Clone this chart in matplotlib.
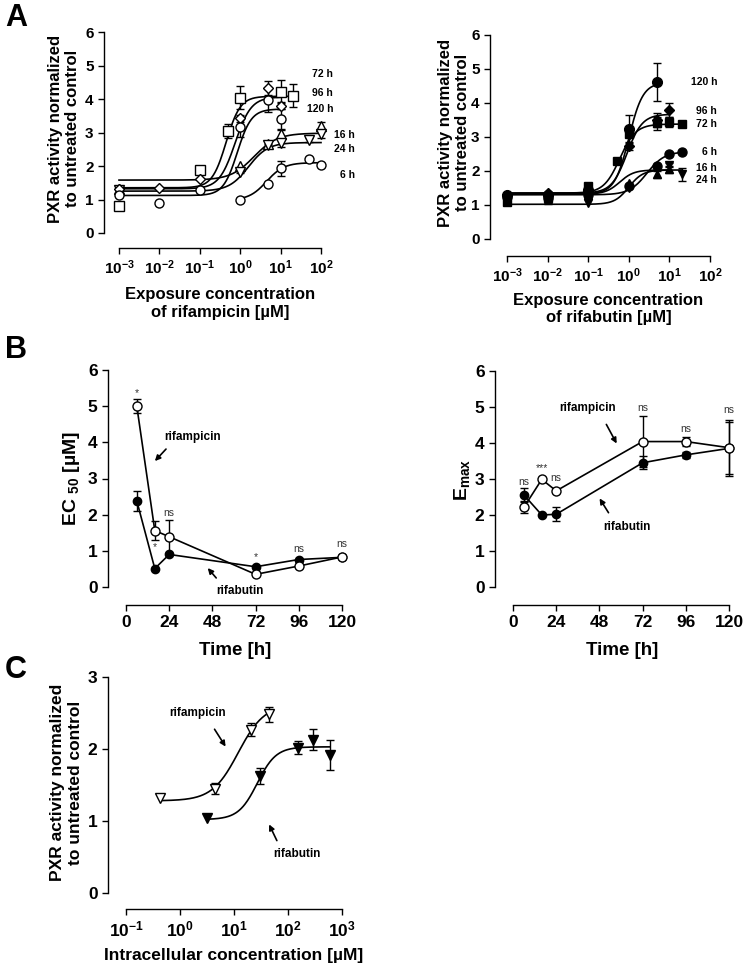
import numpy as np
import matplotlib.pyplot as plt

plt.rcParams['font.family'] = ['Liberation Sans', 'DejaVu Sans']
plt.rcParams['font.weight'] = 'bold'
plt.rcParams['axes.labelweight'] = 'bold'
plt.rcParams['mathtext.fontset'] = 'custom'
plt.rcParams['mathtext.rm'] = 'Liberation Sans:bold'
plt.rcParams['mathtext.bf'] = 'Liberation Sans:bold'
plt.rcParams['mathtext.it'] = 'Liberation Sans:bold'
plt.rcParams['axes.linewidth'] = 1.0

# ---- panel A, rifampicin (open symbols)
labels_h = ['6 h', '16 h', '24 h', '72 h', '96 h', '120 h']
rif_x = [[1, 5, 10, 50, 100],
         [0.001, 1, 5, 10, 100],
         [0.001, 1, 5, 10, 50, 100],
         [0.001, 0.1, 0.5, 1, 10, 20],
         [0.001, 0.01, 0.1, 1, 5, 10],
         [0.001, 0.01, 0.1, 1, 5, 10]]
rif_y = [[0.98, 1.47, 1.93, 2.2, 2.03],
         [1.3, 2.0, 2.66, 2.97, 3.2],
         [1.27, 1.83, 2.62, 2.68, 2.78, 2.95],
         [0.8, 1.88, 3.04, 4.04, 4.22, 4.1],
         [1.31, 1.35, 1.62, 3.42, 4.33, 3.8],
         [1.13, 0.89, 1.28, 3.17, 3.96, 3.39]]
rif_err = [[0, 0, 0.22, 0.05, 0],
           [0, 0, 0.05, 0.1, 0.1],
           [0, 0.05, 0.05, 0.1, 0.05, 0.1],
           [0, 0, 0.2, 0.35, 0.35, 0.35],
           [0, 0, 0, 0.1, 0.2, 0.1],
           [0, 0, 0, 0.3, 0.35, 0.3]]
# fitted curves: bottom, top, EC50, hill slope
rif_fit = [[0.98, 2.1, 4.5, 2.0],
           [1.58, 2.98, 2.2, 1.5],
           [1.25, 2.7, 1.6, 1.8],
           [1.35, 4.08, 0.45, 2.5],
           [1.32, 4.06, 0.75, 2.2],
           [1.12, 3.7, 0.85, 2.5]]
rif_lab_y = [1.73, 2.93, 2.5, 4.75, 4.19, 3.69]

# ---- panel A, rifabutin (filled symbols)
rfb_x = [[0.001, 0.01, 0.1, 1, 5, 10, 20],
         [0.001, 0.01, 0.1, 1, 5, 10],
         [0.001, 0.1, 1, 10, 20],
         [0.001, 0.01, 0.1, 0.5, 1, 5, 10, 20],
         [0.001, 0.01, 0.1, 1, 5, 10],
         [0.001, 0.01, 0.1, 1, 5]]
rfb_y = [[1.25, 1.22, 1.3, 1.55, 2.14, 2.5, 2.57],
         [1.3, 1.15, 1.3, 1.65, 1.9, 2.05],
         [1.15, 1.05, 1.5, 2.18, 1.9],
         [1.1, 1.2, 1.56, 2.3, 3.1, 3.4, 3.45, 3.38],
         [1.3, 1.35, 1.45, 2.73, 3.5, 3.8],
         [1.3, 1.3, 1.45, 3.25, 4.62]]
rfb_err = [[0, 0, 0, 0, 0, 0, 0],
           [0, 0, 0, 0, 0.1, 0.1],
           [0, 0, 0, 0.05, 0.2],
           [0.1, 0, 0, 0, 0.1, 0.2, 0.15, 0],
           [0, 0, 0, 0.1, 0.2, 0.2],
           [0, 0, 0, 0.4, 0.57]]
rfb_fit = [[1.3, 2.57, 2.8, 2.0],
           [1.32, 2.03, 0.6, 2.5],
           [1.02, 2.03, 1.0, 2.5],
           [1.35, 3.38, 0.6, 2.2],
           [1.35, 3.67, 0.9, 2.3],
           [1.33, 4.6, 1.0, 2.5]]
rfb_lab_y = [2.57, 2.08, 1.74, 3.38, 3.75, 4.63]

# ---- panel B
time_h = [6, 16, 24, 72, 96, 120]
ec50_rif = [5.0, 1.56, 1.39, 0.35, 0.58, 0.83]
ec50_rif_err = [0.2, 0.27, 0.45, 0, 0, 0]
ec50_rfb = [2.38, 0.51, 0.9, 0.56, 0.76, 0.82]
ec50_rfb_err = [0.27, 0, 0, 0, 0, 0]
ec50_sig = ['*', '*', 'ns', '*', 'ns', 'ns']
ec50_sig_y = [5.36, 1.1, 2.04, 0.83, 1.05, 1.19]

emax_rif = [2.21, 2.99, 2.67, 4.04, 4.04, 3.87]
emax_rif_err = [0.15, 0, 0, 0.72, 0.12, 0.78]
emax_rfb = [2.56, 2.0, 2.02, 3.45, 3.67, 3.85]
emax_rfb_err = [0.18, 0, 0.2, 0.18, 0.08, 0.72]
emax_sig = ['ns', '***', 'ns', 'ns', 'ns', 'ns']
emax_sig_y = [2.92, 3.3, 3.03, 4.97, 4.39, 4.92]

# ---- panel C
c_rif_x = [0.43, 4.4, 21, 44]
c_rif_y = [1.32, 1.45, 2.27, 2.48]
c_rif_err = [0, 0.08, 0.09, 0.11]
c_rif_fit = [1.28, 2.62, 12, 1.8]
c_rfb_x = [3.1, 30, 155, 295, 600]
c_rfb_y = [1.04, 1.62, 2.02, 2.13, 1.92]
c_rfb_err = [0, 0.11, 0.09, 0.15, 0.21]
c_rfb_fit = [1.02, 2.03, 27, 2.5]


def hill(x, p):
    return p[0] + (p[1] - p[0]) / (1 + (p[2] / x) ** p[3])


def setup(ax, off_l, off_b, xb, yb):
    for s in ['top', 'right']:
        ax.spines[s].set_visible(False)
    ax.spines['left'].set_position(('outward', off_l * 0.72))
    ax.spines['bottom'].set_position(('outward', off_b * 0.72))
    ax.spines['left'].set_bounds(*yb)
    ax.spines['bottom'].set_bounds(*xb)
    ax.set_xlim(*xb)
    ax.set_ylim(*yb)
    ax.tick_params(direction='out', length=4, width=1)
    ax.minorticks_off()


def eb(ax, x, y, err, marker, ms, face, **kw):
    err = np.array(err, dtype=float)
    err = np.where(err > 0, err, np.nan)
    c = ax.errorbar(x, y, yerr=err, fmt=marker, ms=ms, mfc=face, mec='k', mew=1,
                    ecolor='k', elinewidth=1, capsize=3, capthick=1, zorder=3, **kw)
    for a in c.get_children():
        a.set_clip_on(False)
    return c


def log_labels(lo, hi):
    return [r'$10^{%d}$' % e for e in range(lo, hi + 1)]


fig = plt.figure(figsize=(7.45, 9.68), dpi=100)
W, H = 745.0, 968.0

def rect(x0, x1, y0, y1):
    return [x0 / W, 1 - y1 / H, (x1 - x0) / W, (y1 - y0) / H]

axA1 = fig.add_axes(rect(119, 321, 32, 233))
axA2 = fig.add_axes(rect(507, 710, 35, 239))
axB1 = fig.add_axes(rect(126, 342, 370, 587))
axB2 = fig.add_axes(rect(513, 729, 371, 587))
axC = fig.add_axes(rect(126, 342, 677, 893))

# ---- A left / right
rif_mk = ['o', '^', 'v', 's', 'D', 'o']
rfb_mk = ['o', '^', 'v', 's', 'D', 'o']
rif_ms = [6.5, 6.5, 6.5, 6.5, 5.5, 6.5]
rfb_ms = [6.5, 6, 6, 6, 5, 7]
for ax, xs, ys, es, fits, mks, mss, face, laby, labx in [
        (axA1, rif_x, rif_y, rif_err, rif_fit, rif_mk, rif_ms, 'white', rif_lab_y,
         [690, 690, 690, 200, 200, 200]),
        (axA2, rfb_x, rfb_y, rfb_err, rfb_fit, rfb_mk, rfb_ms, 'black', rfb_lab_y,
         [150] * 6)]:
    ax.set_xscale('log')
    setup(ax, 15 if ax is axA1 else 17, 15 if ax is axA1 else 17, (1e-3, 1e2), (0, 6))
    for x, y, e, p, mk, ms in zip(xs, ys, es, fits, mks, mss):
        xx = np.logspace(np.log10(min(x)), np.log10(max(x)), 200)
        ax.plot(xx, hill(xx, p), color='k', lw=1.2, zorder=2, clip_on=False)
        eb(ax, x, y, e, mk, ms, face)
    for lab, yy, xx in zip(labels_h, laby, labx):
        ax.text(xx, yy, lab, ha='right', va='center', fontsize=7.5, fontweight='bold')
    ax.set_xticks([10.0 ** e for e in range(-3, 3)])
    ax.set_xticklabels(log_labels(-3, 2))
    ax.set_yticks(range(7))
    ax.tick_params(labelsize=11)
    ax.set_ylabel('PXR activity normalized\nto untreated control', fontsize=12)

axA1.set_xlabel('Exposure concentration\nof rifampicin [µM]', fontsize=12, va='top')
axA2.set_xlabel('Exposure concentration\nof rifabutin [µM]', fontsize=12, va='top')
axA1.yaxis.set_label_coords(-0.193, 0.52)
axA2.yaxis.set_label_coords(-0.182, 0.52)
axA1.xaxis.set_label_coords(0.5, -0.27)
axA2.xaxis.set_label_coords(0.5, -0.265)

# ---- B
for ax, r, re, b, be, sig, sigy in [
        (axB1, ec50_rif, ec50_rif_err, ec50_rfb, ec50_rfb_err, ec50_sig, ec50_sig_y),
        (axB2, emax_rif, emax_rif_err, emax_rfb, emax_rfb_err, emax_sig, emax_sig_y)]:
    setup(ax, 18, 18, (0, 120), (0, 6))
    ax.plot(time_h, b, color='k', lw=1.2, zorder=2, clip_on=False)
    ax.plot(time_h, r, color='k', lw=1.2, zorder=2, clip_on=False)
    eb(ax, time_h, b, be, 'o', 6, 'black')
    eb(ax, time_h, r, re, 'o', 6.5, 'white')
    for t, s, yy in zip(time_h, sig, sigy):
        ax.text(t, yy, s, ha='center', va='center', fontsize=7.5, fontweight='normal',
                color='#333333')
    ax.set_xticks([0, 24, 48, 72, 96, 120])
    ax.set_yticks(range(7))
    ax.tick_params(labelsize=12.5)
    ax.set_xlabel('Time [h]', fontsize=13.5, va='top')
    ax.xaxis.set_label_coords(0.505, -0.255)

axB1.set_ylabel(r'EC $_{50}$ [µM]', fontsize=14)
axB1.yaxis.set_label_coords(-0.204, 0.5)
axB2.set_ylabel(r'E$_{max}$', fontsize=14)
axB2.yaxis.set_label_coords(-0.19, 0.495)

arrow = dict(arrowstyle='-|>', color='k', lw=1.2, mutation_scale=8)
axB1.annotate('rifampicin', xy=(0.125, 0.571), xytext=(0.31, 0.691), xycoords='axes fraction',
              textcoords='axes fraction', ha='center', va='center', fontsize=8.5)
axB1.annotate('', xy=(0.125, 0.571), xytext=(0.194, 0.645), xycoords='axes fraction',
              textcoords='axes fraction', arrowprops=arrow)
axB1.annotate('rifabutin', xy=(0.37, 0.097), xytext=(0.528, -0.018), xycoords='axes fraction',
              textcoords='axes fraction', ha='center', va='center', fontsize=8.5)
axB1.annotate('', xy=(0.37, 0.097), xytext=(0.426, 0.032), xycoords='axes fraction',
              textcoords='axes fraction', arrowprops=arrow)
axB2.annotate('rifampicin', xy=(0.486, 0.653), xytext=(0.343, 0.829), xycoords='axes fraction',
              textcoords='axes fraction', ha='center', va='center', fontsize=8.5)
axB2.annotate('', xy=(0.486, 0.653), xytext=(0.426, 0.764), xycoords='axes fraction',
              textcoords='axes fraction', arrowprops=arrow)
axB2.annotate('rifabutin', xy=(0.394, 0.421), xytext=(0.528, 0.278), xycoords='axes fraction',
              textcoords='axes fraction', ha='center', va='center', fontsize=8.5)
axB2.annotate('', xy=(0.394, 0.421), xytext=(0.449, 0.333), xycoords='axes fraction',
              textcoords='axes fraction', arrowprops=arrow)

# ---- C
axC.set_xscale('log')
setup(axC, 18, 16, (1e-1, 1e3), (0, 3))
for x, y, e, p, face in [(c_rif_x, c_rif_y, c_rif_err, c_rif_fit, 'white'),
                         (c_rfb_x, c_rfb_y, c_rfb_err, c_rfb_fit, 'black')]:
    xx = np.logspace(np.log10(min(x)), np.log10(max(x)), 200)
    axC.plot(xx, hill(xx, p), color='k', lw=1.2, zorder=2, clip_on=False)
    eb(axC, x, y, e, 'v', 7.5, face)
axC.set_xticks([10.0 ** e for e in range(-1, 4)])
axC.set_xticklabels(log_labels(-1, 3))
axC.set_yticks(range(4))
axC.tick_params(labelsize=12.5)
axC.set_ylabel('PXR activity normalized\nto untreated control', fontsize=12.5)
axC.yaxis.set_label_coords(-0.2, 0.51)
axC.set_xlabel('Intracellular concentration [µM]', fontsize=12.5, va='top')
axC.xaxis.set_label_coords(0.5, -0.255)
axC.annotate('rifampicin', xy=(0.468, 0.667), xytext=(0.329, 0.833), xycoords='axes fraction',
             textcoords='axes fraction', ha='center', va='center', fontsize=8.5)
axC.annotate('', xy=(0.468, 0.667), xytext=(0.403, 0.769), xycoords='axes fraction',
             textcoords='axes fraction', arrowprops=arrow)
axC.annotate('rifabutin', xy=(0.657, 0.329), xytext=(0.792, 0.181), xycoords='axes fraction',
             textcoords='axes fraction', ha='center', va='center', fontsize=8.5)
axC.annotate('', xy=(0.657, 0.329), xytext=(0.704, 0.231), xycoords='axes fraction',
             textcoords='axes fraction', arrowprops=arrow)

# panel letters
fig.text(5 / W, 1 - 3 / H, 'A', fontsize=22, fontweight='bold', va='top')
fig.text(5 / W, 1 - 335 / H, 'B', fontsize=22, fontweight='bold', va='top')
fig.text(5 / W, 1 - 655 / H, 'C', fontsize=22, fontweight='bold', va='top')

fig.savefig('out.png', dpi=100)
